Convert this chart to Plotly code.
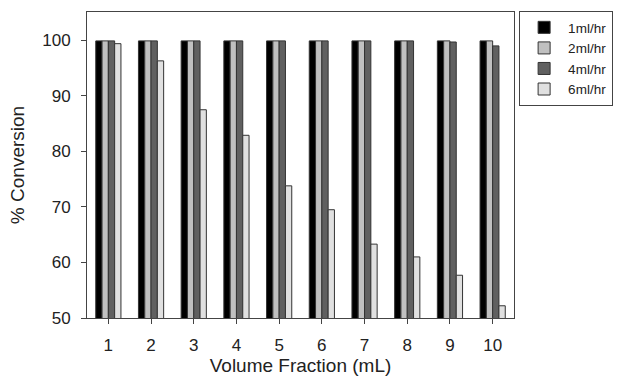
import plotly.graph_objects as go

fractions = [1, 2, 3, 4, 5, 6, 7, 8, 9, 10]
series_names = ["1ml/hr", "2ml/hr", "4ml/hr", "6ml/hr"]
conv_1ml = [99.9, 99.9, 99.9, 99.9, 99.9, 99.9, 99.9, 99.9, 99.9, 99.9]
conv_2ml = [99.9, 99.9, 99.9, 99.9, 99.9, 99.9, 99.9, 99.9, 99.9, 99.9]
conv_4ml = [99.9, 99.9, 99.9, 99.9, 99.9, 99.9, 99.9, 99.9, 99.7, 99.0]
conv_6ml = [99.4, 96.3, 87.5, 82.9, 73.8, 69.5, 63.3, 61.0, 57.7, 52.2]
colors = ["#000000", "#c0c0c0", "#606060", "#e0e0e0"]

fig = go.Figure()
for name, vals, col in zip(series_names, [conv_1ml, conv_2ml, conv_4ml, conv_6ml], colors):
    fig.add_trace(go.Bar(
        x=fractions, y=vals, name=name,
        marker=dict(color=col, line=dict(color="#333333", width=1)),
        base=0,
    ))

font_family = "Liberation Sans, Arial, sans-serif"
fig.update_layout(
    width=619, height=385,
    margin=dict(l=87, r=105, t=12, b=67, autoexpand=False),
    barmode="group", bargap=0.41, bargroupgap=0,
    plot_bgcolor="white", paper_bgcolor="white",
    font=dict(family=font_family, size=17, color="#222222"),
    showlegend=True,
    legend=dict(
        x=1.012, y=1.003, xanchor="left", yanchor="top",
        bordercolor="#444444", borderwidth=1, bgcolor="white",
        font=dict(size=13.5, color="#222222"),
        tracegroupgap=0, itemwidth=38,
    ),
    xaxis=dict(
        range=[0.5, 10.5], tickvals=fractions, ticktext=[str(v) for v in fractions],
        showline=True, linecolor="#444444", linewidth=1, mirror=True,
        ticks="outside", ticklen=5, tickcolor="#444444",
        ticklabelstandoff=7, automargin=False,
        showgrid=False, zeroline=False,
        title=dict(text="Volume Fraction (mL)", font=dict(size=19), standoff=0),
    ),
    yaxis=dict(
        range=[50, 105.1], tickvals=[50, 60, 70, 80, 90, 100],
        showline=True, linecolor="#444444", linewidth=1, mirror=True,
        ticks="outside", ticklen=5, tickcolor="#444444",
        ticklabelstandoff=7, automargin=False,
        showgrid=False, zeroline=False,
        title=dict(text="% Conversion", font=dict(size=19), standoff=12),
    ),
)

fig.write_html("out.html")
